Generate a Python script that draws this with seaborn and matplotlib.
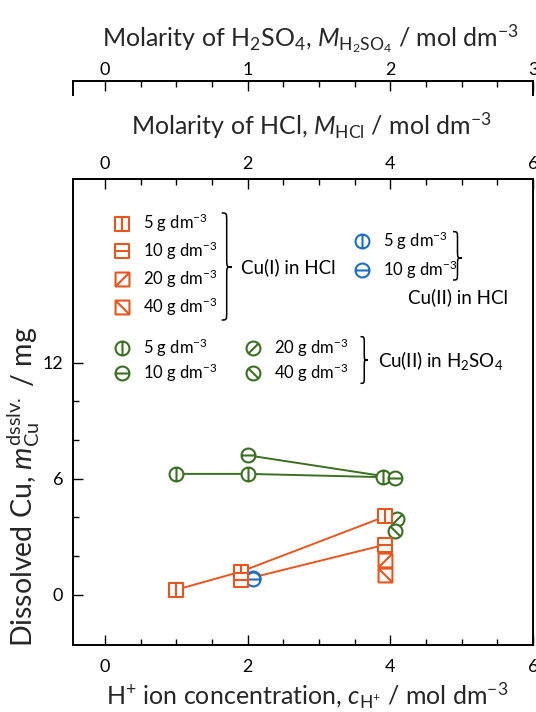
import numpy as np
import pandas as pd
import seaborn as sns
import matplotlib
matplotlib.use("Agg")
import matplotlib.pyplot as plt
import matplotlib.transforms as mtransforms
from matplotlib.path import Path
from matplotlib.patches import PathPatch
from matplotlib.lines import Line2D
from matplotlib.legend import Legend
from matplotlib.ticker import MultipleLocator, FixedLocator

# ---------------- data ----------------
# Cu(I) in HCl  (x = H+ concentration / mol dm-3, y = dissolved Cu / mg)
cu1_hcl_5_x = [1.0, 1.9, 3.93]
cu1_hcl_5_y = [0.26, 1.19, 4.05]
cu1_hcl_10_x = [1.9, 3.93]
cu1_hcl_10_y = [0.74, 2.59]
cu1_hcl_20_x = [3.93]
cu1_hcl_20_y = [1.81]
cu1_hcl_40_x = [3.93]
cu1_hcl_40_y = [1.03]

# Cu(II) in HCl
cu2_hcl_5_x = [2.08]
cu2_hcl_5_y = [0.86]
cu2_hcl_10_x = [2.08]
cu2_hcl_10_y = [0.80]

# Cu(II) in H2SO4
cu2_h2so4_5_x = [1.0, 2.0, 3.9]
cu2_h2so4_5_y = [6.25, 6.25, 6.08]
cu2_h2so4_10_x = [2.0, 4.07]
cu2_h2so4_10_y = [7.21, 6.04]
cu2_h2so4_20_x = [4.09]
cu2_h2so4_20_y = [3.94]
cu2_h2so4_40_x = [4.06]
cu2_h2so4_40_y = [3.30]

legend_labels = [r"5 g dm$^{-3}$", r"10 g dm$^{-3}$", r"20 g dm$^{-3}$", r"40 g dm$^{-3}$"]
group_labels = ["Cu(I) in HCl", "Cu(II) in HCl", r"Cu(II) in H$_2$SO$_4$"]

x_major = [0, 2, 4, 6]
y_major = [0, 6, 12]
y_minor = [2, 4, 8, 10]
h2so4_major = [0, 1, 2, 3]

# ---------------- style ----------------
sns.set_theme(style="ticks")
plt.rcParams["font.family"] = ["Lato", "DejaVu Sans"]
plt.rcParams["mathtext.fontset"] = "custom"
plt.rcParams["mathtext.rm"] = "Lato"
plt.rcParams["mathtext.it"] = "Lato:italic"
plt.rcParams["mathtext.bf"] = "Lato:bold"
plt.rcParams["axes.linewidth"] = 1.4
plt.rcParams["axes.edgecolor"] = "black"
plt.rcParams["text.color"] = "black"
plt.rcParams["xtick.color"] = "black"
plt.rcParams["ytick.color"] = "black"

ORANGE = "#E8561F"
GREEN = "#3B6F21"
BLUE = "#1C6DC6"

FS_AX = 18
FS_YL = 20.5
FS_TICK = 13
FS_LEG = 12
FS_GRP = 13.5

W, H = 536, 712
fig = plt.figure(figsize=(W / 100, H / 100), dpi=100)
px = mtransforms.Affine2D().scale(1 / W, -1 / H).translate(0, 1) + fig.transFigure

ax_l, ax_r, ax_t, ax_b = 73, 533, 179, 645
ax = fig.add_axes([ax_l / W, (H - ax_b) / H, (ax_r - ax_l) / W, (ax_b - ax_t) / H])
ax.set_facecolor("white")

# ---------------- markers ----------------
M, L, C = Path.MOVETO, Path.LINETO, Path.CLOSEPOLY


def square_marker(seg):
    verts = [(-1, -1), (1, -1), (1, 1), (-1, 1), (-1, -1)] + list(seg)
    codes = [M, L, L, L, C, M, L]
    return Path(verts, codes)


def circle_marker(seg):
    circ = Path.unit_circle()
    return Path.make_compound_path(circ, Path(list(seg), [M, L]))


d = 0.7071
sq_marks = [square_marker([(0, -1), (0, 1)]), square_marker([(-1, 0), (1, 0)]),
            square_marker([(-1, -1), (1, 1)]), square_marker([(-1, 1), (1, -1)])]
ci_marks = [circle_marker([(0, -1), (0, 1)]), circle_marker([(-1, 0), (1, 0)]),
            circle_marker([(-d, -d), (d, d)]), circle_marker([(-d, d), (d, -d)])]

MS = 10
MEW = 1.5
LW = 1.4


def draw_line(xs, ys, color):
    if len(xs) > 1:
        sns.lineplot(x=xs, y=ys, ax=ax, color=color, lw=LW, zorder=2,
                     estimator=None, sort=False)


def draw_marks(xs, ys, color, mk):
    sns.lineplot(x=xs, y=ys, ax=ax, color=color, linestyle="", marker=mk,
                 markersize=MS, markerfacecolor="white", markeredgecolor=color,
                 markeredgewidth=MEW, zorder=3, estimator=None, sort=False)


# lines first
draw_line(cu2_h2so4_5_x, cu2_h2so4_5_y, GREEN)
draw_line(cu2_h2so4_10_x, cu2_h2so4_10_y, GREEN)
draw_line(cu1_hcl_5_x, cu1_hcl_5_y, ORANGE)
draw_line(cu1_hcl_10_x, cu1_hcl_10_y, ORANGE)

# markers
draw_marks(cu2_hcl_5_x, cu2_hcl_5_y, BLUE, ci_marks[0])
draw_marks(cu2_hcl_10_x, cu2_hcl_10_y, BLUE, ci_marks[1])
draw_marks(cu2_h2so4_5_x, cu2_h2so4_5_y, GREEN, ci_marks[0])
draw_marks(cu2_h2so4_10_x, cu2_h2so4_10_y, GREEN, ci_marks[1])
draw_marks(cu2_h2so4_20_x, cu2_h2so4_20_y, GREEN, ci_marks[2])
draw_marks(cu2_h2so4_40_x, cu2_h2so4_40_y, GREEN, ci_marks[3])
draw_marks(cu1_hcl_5_x, cu1_hcl_5_y, ORANGE, sq_marks[0])
draw_marks(cu1_hcl_10_x, cu1_hcl_10_y, ORANGE, sq_marks[1])
draw_marks(cu1_hcl_20_x, cu1_hcl_20_y, ORANGE, sq_marks[2])
draw_marks(cu1_hcl_40_x, cu1_hcl_40_y, ORANGE, sq_marks[3])

# ---------------- axes ----------------
ax.set_xlim(-0.45, 6)
ax.set_ylim(-2.6, 21.5)
ax.xaxis.set_major_locator(FixedLocator(x_major))
ax.xaxis.set_minor_locator(MultipleLocator(0.5))
ax.yaxis.set_major_locator(FixedLocator(y_major))
ax.yaxis.set_minor_locator(FixedLocator(y_minor))
for s in ax.spines.values():
    s.set_visible(True)
    s.set_linewidth(1.4)
ax.tick_params(axis="both", which="both", direction="in", width=1.0, labelsize=FS_TICK)
ax.tick_params(axis="both", which="major", length=7)
ax.tick_params(axis="both", which="minor", length=4.3)
ax.tick_params(axis="x", which="both", top=False, bottom=True, pad=10)
ax.tick_params(axis="y", which="both", left=True, right=False, pad=7)
ax.set_xticklabels([str(v) for v in x_major])
ax.set_yticklabels([str(v) for v in y_major])

ax.set_xlabel(r"H$^{+}$ ion concentration, $c_{\mathrm{H^{+}}}$ / mol dm$^{-3}$", fontsize=FS_AX)
ax.xaxis.set_label_coords(307, 681, transform=px)
ax.set_ylabel(r"Dissolved Cu, $m_{\mathrm{Cu}}^{\mathrm{dsslv.}}$ / mg", fontsize=FS_YL)
ax.yaxis.set_label_coords(42, 487, transform=px)

# HCl molarity axis (top of main axes)
sec = ax.secondary_xaxis("top", functions=(lambda v: v, lambda v: v))
sec.xaxis.set_major_locator(FixedLocator(x_major))
sec.xaxis.set_minor_locator(MultipleLocator(0.5))
sec.tick_params(axis="x", which="both", direction="in", width=1.0, labelsize=FS_TICK, pad=5)
sec.tick_params(axis="x", which="major", length=7)
sec.tick_params(axis="x", which="minor", length=4.3)
sec.spines["top"].set_linewidth(1.4)
sec.set_xlabel(r"Molarity of HCl, $M_{\mathrm{HCl}}$ / mol dm$^{-3}$", fontsize=FS_AX)
sec.xaxis.set_label_coords(311.5, 135, transform=px)

# H2SO4 molarity axis (separate scale bar above)
top_y, cap_y = 81, 95
ax2 = fig.add_axes([ax_l / W, (H - cap_y) / H, (ax_r - ax_l) / W, (cap_y - top_y) / H])
ax2.set_facecolor("none")
ax2.set_xlim(-0.225, 3)
ax2.set_ylim(0, 1)
ax2.spines["bottom"].set_visible(False)
for k in ("top", "left", "right"):
    ax2.spines[k].set_visible(True)
    ax2.spines[k].set_linewidth(1.4)
ax2.set_yticks([])
ax2.xaxis.set_major_locator(FixedLocator(h2so4_major))
ax2.xaxis.set_minor_locator(MultipleLocator(0.25))
ax2.tick_params(axis="x", which="both", direction="in", width=1.0, labelsize=FS_TICK,
                top=True, bottom=False, labeltop=True, labelbottom=False, pad=2.5)
ax2.tick_params(axis="x", which="major", length=7)
ax2.tick_params(axis="x", which="minor", length=4.3)
ax2.set_xticklabels([str(v) for v in h2so4_major])
ax2.xaxis.set_label_position("top")
ax2.set_xlabel(r"Molarity of H$_2$SO$_4$, $M_{\mathrm{H_2SO_4}}$ / mol dm$^{-3}$", fontsize=FS_AX)
ax2.xaxis.set_label_coords(311, 47, transform=px)

# ---------------- legends ----------------
fs_px = FS_LEG * 100 / 72


def handles(color, marks):
    return [Line2D([], [], linestyle="", marker=m, markersize=MS, markerfacecolor="white",
                   markeredgecolor=color, markeredgewidth=MEW, color=color) for m in marks]


def put_legend(hs, labs, mx, cy, spacing):
    lg = Legend(ax, hs, labs, loc="center left", bbox_to_anchor=(mx - fs_px * 0.5, cy),
                bbox_transform=px, frameon=False, fontsize=FS_LEG, borderpad=0,
                borderaxespad=0, handlelength=1.0, handletextpad=0.75,
                labelspacing=spacing)
    ax.add_artist(lg)
    return lg


put_legend(handles(ORANGE, sq_marks), legend_labels, 121.7, 265, 0.33)
put_legend(handles(BLUE, ci_marks[:2]), legend_labels[:2], 361.7, 255.3, 0.37)
put_legend(handles(GREEN, ci_marks[:2]), legend_labels[:2], 121.7, 360, 0.16)
put_legend(handles(GREEN, ci_marks[2:]), legend_labels[2:], 253.3, 360, 0.16)


def brace(x, y0, y1, ytip, w):
    xm = x + w * 0.5
    q = min(w * 0.9, (ytip - y0) * 0.3)
    verts = [(x, y0), (xm, y0), (xm, y0), (xm, y0 + q),
             (xm, ytip - q),
             (xm, ytip), (xm, ytip), (x + w, ytip),
             (xm, ytip), (xm, ytip), (xm, ytip + q),
             (xm, y1 - q),
             (xm, y1), (xm, y1), (x, y1)]
    codes = [M, Path.CURVE4, Path.CURVE4, Path.CURVE4,
             L,
             Path.CURVE4, Path.CURVE4, Path.CURVE4,
             Path.CURVE4, Path.CURVE4, Path.CURVE4,
             L,
             Path.CURVE4, Path.CURVE4, Path.CURVE4]
    fig.add_artist(PathPatch(Path(verts, codes), transform=px, fill=False,
                             edgecolor="black", lw=1.1))


brace(221.7, 213, 320, 267, 10)
brace(453, 231.7, 280, 258, 9)
brace(360.5, 336.7, 383.3, 360, 7.5)

fig.text(240.7, 273.3, group_labels[0], transform=px, fontsize=FS_GRP, ha="left", va="baseline")
fig.text(408, 302.7, group_labels[1], transform=px, fontsize=FS_GRP, ha="left", va="baseline")
fig.text(378, 366.7, group_labels[2], transform=px, fontsize=FS_GRP, ha="left", va="baseline")

fig.savefig("out.png", dpi=100)
